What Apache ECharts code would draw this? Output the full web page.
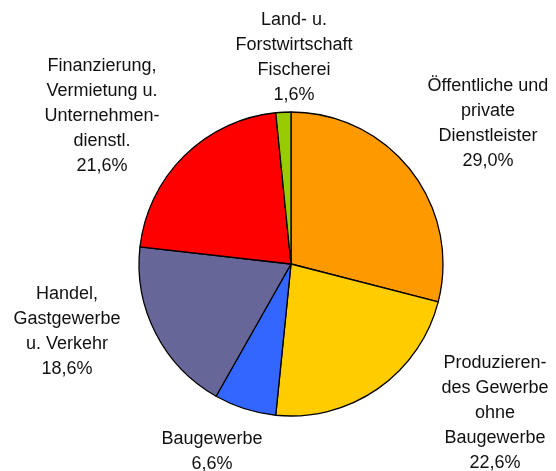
<!DOCTYPE html>
<html><head><meta charset="utf-8">
<script src="https://cdn.jsdelivr.net/npm/echarts@6/dist/echarts.min.js"></script>
<style>html,body{margin:0;padding:0;background:#fff}#c{width:556px;height:471px}</style>
</head><body><div id="c"></div>
<script>
var categories = [
  "Öffentliche und\nprivate\nDienstleister",
  "Produzieren-\ndes Gewerbe\nohne\nBaugewerbe",
  "Baugewerbe",
  "Handel,\nGastgewerbe\nu. Verkehr",
  "Finanzierung,\nVermietung u.\nUnternehmen-\ndienstl.",
  "Land- u.\nForstwirtschaft\nFischerei"
];
var values = [29.0, 22.6, 6.6, 18.6, 21.6, 1.6];
var colors = ["#FF9900", "#FFCC00", "#3366FF", "#666699", "#FF0000", "#99CC00"];
var labelPos = [[488,124],[495,413],[212,452],[67,332],[102,116],[294,58]];

var data = categories.map(function(c,i){return {name:c, value:values[i], itemStyle:{color:colors[i]}};});
var chart = echarts.init(document.getElementById('c'));
chart.setOption({
  animation:false,
  series:[{
    type:'pie',
    center:[291,264],
    radius:152,
    startAngle:90,
    clockwise:true,
    data:data,
    itemStyle:{borderColor:'#000',borderWidth:1.3},
    labelLine:{show:false},
    label:{
      show:true,position:'outside',overflow:'none',alignTo:'none',
      formatter:function(p){return p.name+'\n'+p.value.toFixed(1).replace('.',',')+'%';},
      fontFamily:'Liberation Sans, Arial, sans-serif',
      fontSize:18,lineHeight:25,color:'#111',align:'center'
    },
    labelLayout:function(p){
      var q=labelPos[p.dataIndex];
      return {x:q[0],y:q[1],align:'center',verticalAlign:'middle',width:200};
    }
  }]
});
</script></body></html>
